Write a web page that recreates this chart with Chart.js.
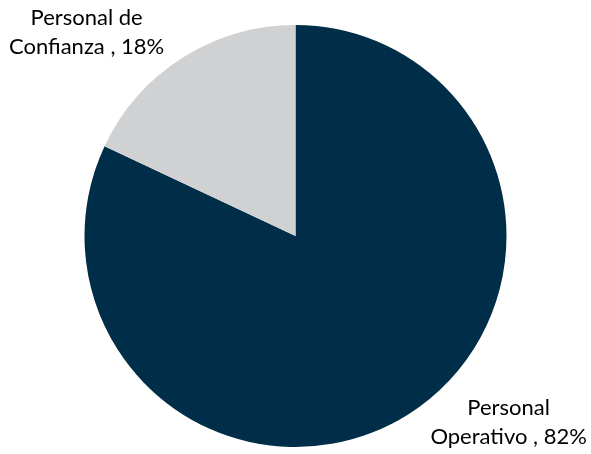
<!DOCTYPE html>
<html>
<head>
<meta charset="utf-8">
<script src="https://cdn.jsdelivr.net/npm/chart.js@4/dist/chart.umd.min.js"></script>
<style>
  html, body { margin: 0; padding: 0; background: #fff; }
  #wrap { width: 591px; height: 454px; }
</style>
</head>
<body>
<div id="wrap"><canvas id="pie" width="591" height="454"></canvas></div>
<script>
// Distribución del personal
const categories = ['Personal Operativo', 'Personal de Confianza'];
const values = [82, 18];
const labelLines = [['Personal', 'Operativo , 82%'], ['Personal de', 'Confianza , 18%']];
const colors = ['#002D47', '#D0D1D3'];

// label anchors relative to pie centre, in units of radius
const labelAnchor = [{ dx: 1.01, dy: 0.884 }, { dx: -0.99, dy: -0.964 }];

const outsideLabels = {
  id: 'outsideLabels',
  afterDraw(chart) {
    const ctx = chart.ctx;
    const meta = chart.getDatasetMeta(0);
    ctx.save();
    ctx.font = '22px Lato, "Open Sans", sans-serif';
    ctx.fillStyle = '#000';
    ctx.textAlign = 'center';
    ctx.textBaseline = 'middle';
    meta.data.forEach((arc, i) => {
      const r = arc.outerRadius;
      const x = arc.x + labelAnchor[i].dx * r;
      const y = arc.y + labelAnchor[i].dy * r;
      const lines = labelLines[i];
      const lh = 29;
      lines.forEach((t, j) => {
        ctx.fillText(t, x, y + (j - (lines.length - 1) / 2) * lh);
      });
    });
    ctx.restore();
  }
};

new Chart(document.getElementById('pie'), {
  type: 'pie',
  data: {
    labels: categories,
    datasets: [{
      data: values,
      backgroundColor: colors,
      borderWidth: 0
    }]
  },
  options: {
    responsive: false,
    animation: false,
    layout: { padding: { top: 25, bottom: 7, left: 0, right: 0 } },
    plugins: {
      legend: { display: false },
      tooltip: { enabled: false }
    }
  },
  plugins: [outsideLabels]
});
</script>
</body>
</html>
